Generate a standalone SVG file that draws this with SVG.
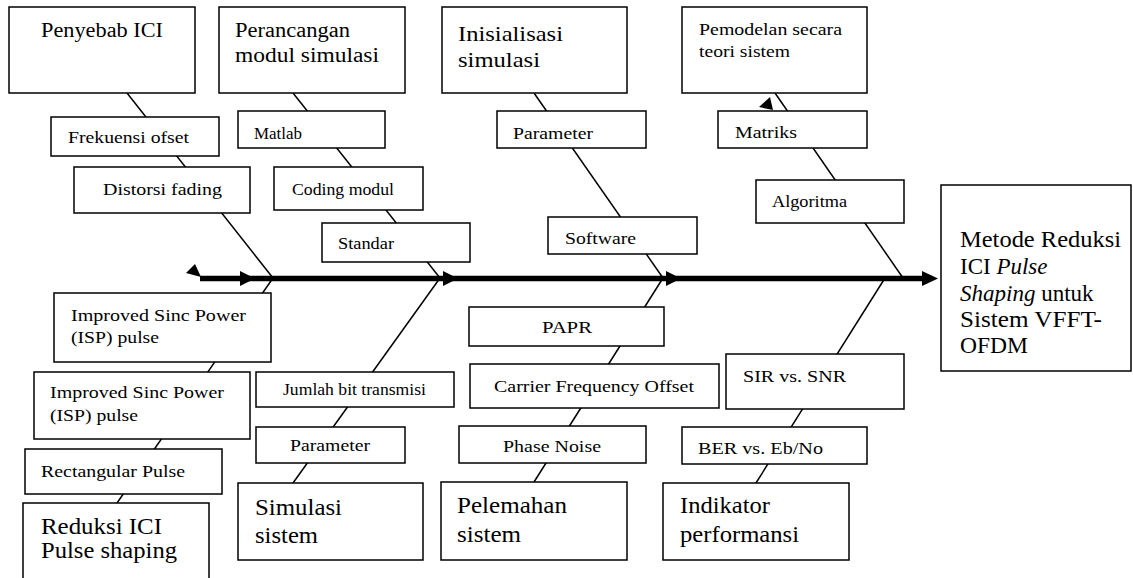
<svg xmlns="http://www.w3.org/2000/svg" width="1133" height="578" viewBox="0 0 1133 578">
<style>
.box{fill:#fff;stroke:#000;stroke-width:1.5}
.bone{stroke:#000;stroke-width:1.5;fill:none}
.spine{stroke:#000;stroke-width:5.5;fill:none}
.ah{fill:#000}
.lb{font-size:17.5px}
.sm{font-size:16px}
.tt{font-size:20px}
.tl{font-size:22px}
.bt{font-size:23px}
.pm{font-size:17.5px}
.it{font-style:italic}
</style>
<rect width="1133" height="578" fill="#fff"/>
<g id="connectors">
<line class="spine" x1="200" y1="278.5" x2="925" y2="278.5"/>
<polygon class="ah" points="240,271 240,286 255,278.5"/>
<polygon class="ah" points="443,271 443,286 458,278.5"/>
<polygon class="ah" points="666,271 666,286 681,278.5"/>
<polygon class="ah" points="922,271 922,286 938,278.5"/>
<polygon class="ah" points="195,264 186,273 201,277"/>
<polygon class="ah" points="770,97 759,107 773,110"/>
<line class="bone" x1="127" y1="93" x2="273" y2="278"/>
<line class="bone" x1="293" y1="93" x2="440" y2="278"/>
<line class="bone" x1="534" y1="93" x2="663" y2="278"/>
<line class="bone" x1="775" y1="93" x2="903" y2="278"/>
<line class="bone" x1="273" y1="278" x2="117" y2="503"/>
<line class="bone" x1="440" y1="278" x2="293" y2="483"/>
<line class="bone" x1="663" y1="278" x2="534" y2="482"/>
<line class="bone" x1="885" y1="278" x2="756" y2="483"/>
</g>
<g id="nodes" font-family="Liberation Serif" fill="#000">
<g id="penyebab"><rect class="box" x="9" y="7" width="186" height="86"/><text class="tt" x="41" y="37" textLength="122" lengthAdjust="spacingAndGlyphs">Penyebab ICI</text></g>
<g id="perancangan"><rect class="box" x="219" y="7" width="186" height="86"/><text class="tt" x="235" y="37" textLength="115" lengthAdjust="spacingAndGlyphs">Perancangan</text><text class="tt" x="235" y="62" textLength="144" lengthAdjust="spacingAndGlyphs">modul simulasi</text></g>
<g id="inisialisasi"><rect class="box" x="442" y="7" width="185" height="86"/><text class="tl" x="458" y="41" textLength="105" lengthAdjust="spacingAndGlyphs">Inisialisasi</text><text class="tl" x="458" y="67" textLength="82" lengthAdjust="spacingAndGlyphs">simulasi</text></g>
<g id="pemodelan"><rect class="box" x="682" y="7" width="185" height="86"/><text class="pm" x="699" y="35" textLength="143" lengthAdjust="spacingAndGlyphs">Pemodelan secara</text><text class="pm" x="699" y="57" textLength="91" lengthAdjust="spacingAndGlyphs">teori sistem</text></g>
<g id="frekuensi"><rect class="box" x="51" y="117" width="168" height="39"/><text class="lb" x="68" y="143" textLength="121" lengthAdjust="spacingAndGlyphs">Frekuensi ofset</text></g>
<g id="distorsi"><rect class="box" x="74" y="167" width="176" height="46"/><text class="lb" x="103" y="195" textLength="119" lengthAdjust="spacingAndGlyphs">Distorsi fading</text></g>
<g id="matlab"><rect class="box" x="238" y="111" width="147" height="37"/><text class="lb" x="254" y="139" textLength="48" lengthAdjust="spacingAndGlyphs">Matlab</text></g>
<g id="coding"><rect class="box" x="274" y="167" width="149" height="43"/><text class="lb" x="292" y="195" textLength="102" lengthAdjust="spacingAndGlyphs">Coding modul</text></g>
<g id="standar"><rect class="box" x="322" y="223" width="148" height="39"/><text class="lb" x="338" y="249" textLength="56" lengthAdjust="spacingAndGlyphs">Standar</text></g>
<g id="parameter1"><rect class="box" x="497" y="111" width="149" height="37"/><text class="lb" x="513" y="139" textLength="80" lengthAdjust="spacingAndGlyphs">Parameter</text></g>
<g id="software"><rect class="box" x="548" y="217" width="149" height="37"/><text class="lb" x="565" y="244" textLength="71" lengthAdjust="spacingAndGlyphs">Software</text></g>
<g id="matriks"><rect class="box" x="718" y="111" width="149" height="37"/><text class="lb" x="735" y="138" textLength="62" lengthAdjust="spacingAndGlyphs">Matriks</text></g>
<g id="algoritma"><rect class="box" x="756" y="180" width="148" height="43"/><text class="lb" x="772" y="207" textLength="75" lengthAdjust="spacingAndGlyphs">Algoritma</text></g>
<g id="isp1"><rect class="box" x="54" y="293" width="217" height="69"/><text class="lb" x="71" y="321" textLength="175" lengthAdjust="spacingAndGlyphs">Improved Sinc Power</text><text class="lb" x="71" y="343" textLength="88" lengthAdjust="spacingAndGlyphs">(ISP) pulse</text></g>
<g id="isp2"><rect class="box" x="34" y="372" width="216" height="67"/><text class="lb" x="50" y="398" textLength="174" lengthAdjust="spacingAndGlyphs">Improved Sinc Power</text><text class="lb" x="50" y="421" textLength="88" lengthAdjust="spacingAndGlyphs">(ISP) pulse</text></g>
<g id="rectangular"><rect class="box" x="25" y="449" width="197" height="45"/><text class="lb" x="41" y="477" textLength="144" lengthAdjust="spacingAndGlyphs">Rectangular Pulse</text></g>
<g id="reduksi"><rect class="box" x="23" y="503" width="186" height="85"/><text class="bt" x="41" y="534" textLength="121" lengthAdjust="spacingAndGlyphs">Reduksi ICI</text><text class="bt" x="41" y="558" textLength="136" lengthAdjust="spacingAndGlyphs">Pulse shaping</text></g>
<g id="jumlah"><rect class="box" x="256" y="372" width="198" height="35"/><text class="sm" x="283" y="395" textLength="143" lengthAdjust="spacingAndGlyphs">Jumlah bit transmisi</text></g>
<g id="parameter2"><rect class="box" x="256" y="427" width="149" height="36"/><text class="lb" x="290" y="451" textLength="80" lengthAdjust="spacingAndGlyphs">Parameter</text></g>
<g id="simulasi"><rect class="box" x="238" y="483" width="185" height="77"/><text class="bt" x="255" y="515" textLength="87" lengthAdjust="spacingAndGlyphs">Simulasi</text><text class="bt" x="255" y="543" textLength="63" lengthAdjust="spacingAndGlyphs">sistem</text></g>
<g id="papr"><rect class="box" x="469" y="307" width="195" height="39"/><text class="lb" x="542" y="333" textLength="50" lengthAdjust="spacingAndGlyphs">PAPR</text></g>
<g id="cfo"><rect class="box" x="470" y="364" width="249" height="44"/><text class="lb" x="494" y="392" textLength="200" lengthAdjust="spacingAndGlyphs">Carrier Frequency Offset</text></g>
<g id="phase"><rect class="box" x="459" y="426" width="187" height="37"/><text class="lb" x="503" y="452" textLength="98" lengthAdjust="spacingAndGlyphs">Phase Noise</text></g>
<g id="pelemahan"><rect class="box" x="441" y="482" width="186" height="78"/><text class="bt" x="457" y="513" textLength="110" lengthAdjust="spacingAndGlyphs">Pelemahan</text><text class="bt" x="457" y="542" textLength="64" lengthAdjust="spacingAndGlyphs">sistem</text></g>
<g id="sir"><rect class="box" x="726" y="354" width="178" height="55"/><text class="lb" x="743" y="382" textLength="103" lengthAdjust="spacingAndGlyphs">SIR vs. SNR</text></g>
<g id="ber"><rect class="box" x="682" y="427" width="185" height="37"/><text class="lb" x="698" y="454" textLength="125" lengthAdjust="spacingAndGlyphs">BER vs. Eb/No</text></g>
<g id="indikator"><rect class="box" x="663" y="483" width="186" height="77"/><text class="bt" x="680" y="513" textLength="90" lengthAdjust="spacingAndGlyphs">Indikator</text><text class="bt" x="680" y="542" textLength="119" lengthAdjust="spacingAndGlyphs">performansi</text></g>
<g id="metode"><rect class="box" x="941" y="185" width="190" height="186"/>
<text class="bt" x="960" y="247" textLength="161" lengthAdjust="spacingAndGlyphs">Metode Reduksi</text>
<text class="bt" x="960" y="274">ICI <tspan class="it">Pulse</tspan></text>
<text class="bt" x="960" y="301"><tspan class="it">Shaping</tspan> untuk</text>
<text class="bt" x="960" y="327" textLength="142" lengthAdjust="spacingAndGlyphs">Sistem VFFT-</text>
<text class="bt" x="960" y="353" textLength="68" lengthAdjust="spacingAndGlyphs">OFDM</text>
</g>
</g>
</svg>
